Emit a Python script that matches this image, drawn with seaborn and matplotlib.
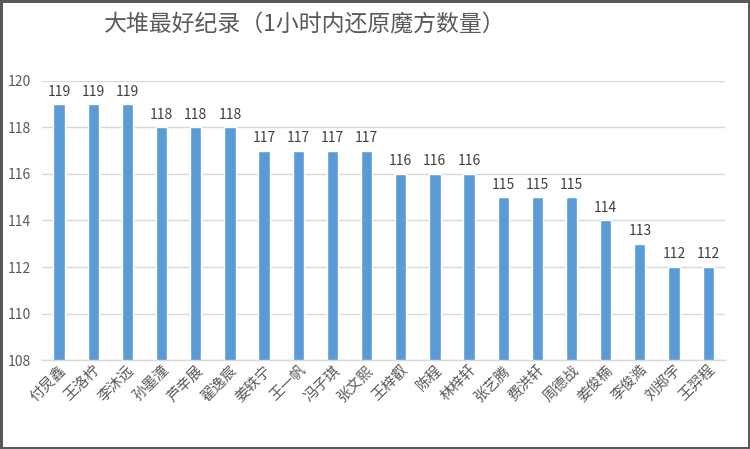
import matplotlib
matplotlib.use("Agg")
import matplotlib.pyplot as plt
import seaborn as sns
import pandas as pd

# ── Data ──────────────────────────────────────────────────
names = ["付炅鑫", "王洛柠", "李沐远", "孙墨潼", "芦辛展", "翟逸宸", "姜轶宁",
         "王一帆", "冯子琪", "张文熙", "王梓叡", "陈程", "林梓轩", "张艺腾",
         "费洪轩", "周德战", "姜俊楠", "李俊澔", "刘郑宇", "王羿程"]
records = [119, 119, 119, 118, 118, 118, 117, 117, 117, 117,
           116, 116, 116, 115, 115, 115, 114, 113, 112, 112]
y_ticks = [108, 110, 112, 114, 116, 118, 120]

title = "大堆最好纪录（1小时内还原魔方数量）"

sns.set_theme(style="white")
plt.rcParams["font.family"] = ["Noto Sans CJK SC", "DejaVu Sans"]

df = pd.DataFrame({"name": names, "count": records})

fig = plt.figure(figsize=(7.5, 4.49), dpi=100,
                 edgecolor="#595959", linewidth=2.5)
ax = fig.add_axes([0.056, 0.198, 0.911, 0.622])

sns.barplot(data=df, x="name", y="count", color="#5B9BD5",
            saturation=1, width=0.33, ax=ax)

ax.set_ylim(108, 120)
ax.set_yticks(y_ticks)
ax.yaxis.grid(True, color="#D9D9D9", linewidth=1)
ax.set_axisbelow(True)
for side in ["top", "right", "left"]:
    ax.spines[side].set_visible(False)
ax.spines["bottom"].set_color("#D9D9D9")
ax.spines["bottom"].set_linewidth(1)

ax.set_xlabel("")
ax.set_ylabel("")
ax.tick_params(axis="y", labelsize=10, labelcolor="#595959", length=0, pad=8)
ax.tick_params(axis="x", labelsize=10.5, labelcolor="#595959", length=0, pad=2)
plt.setp(ax.get_xticklabels(), rotation=45, ha="right",
         rotation_mode="anchor")

for cont in ax.containers:
    ax.bar_label(cont, labels=[str(v) for v in records], padding=4,
                 fontsize=10, color="#404040")

fig.text(0.407, 0.944, title, ha="center", va="center",
         fontsize=16.5, color="#595959", fontweight="medium")

fig.savefig("out.png", dpi=100)
